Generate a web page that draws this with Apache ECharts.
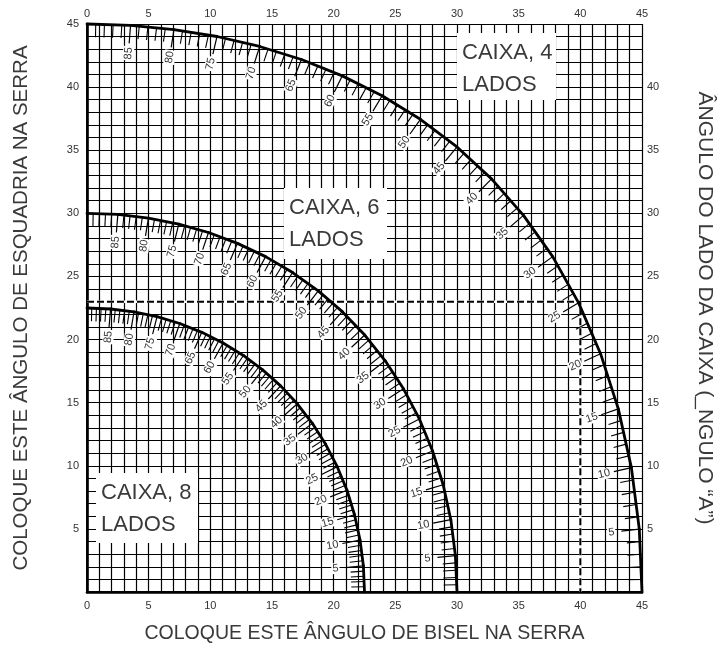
<!DOCTYPE html>
<html>
<head>
<meta charset="utf-8">
<script src="https://cdn.jsdelivr.net/npm/echarts@6/dist/echarts.min.js"></script>
<style>
html,body{margin:0;padding:0;background:#fff;}
#chart{width:723px;height:651px;}
</style>
</head>
<body>
<div id="chart"></div>
<script>
// Side angle "A" of the box (degrees), read at every 5° along the scales
const sideAngles = [0,5,10,15,20,25,30,35,40,45,50,55,60,65,70,75,80,85,90];
// 4-sided box: saw bevel (x) and saw miter (y)
const bevel4 = [45.00,44.78,44.14,43.08,41.64,39.86,37.76,35.39,32.80,30.00,27.03,23.93,20.70,17.39,14.00,10.54,7.05,3.53,0];
const miter4 = [0,4.98,9.85,14.51,18.88,22.91,26.57,29.84,32.73,35.26,37.45,39.32,40.89,42.19,43.22,44.01,44.56,44.89,45];
// 6-sided box
const bevel6 = [30.00,29.87,29.50,28.88,28.02,26.95,25.66,24.18,22.52,20.70,18.75,16.67,14.48,12.20,9.85,7.44,4.98,2.50,0];
const miter6 = [0,2.88,5.73,8.50,11.17,13.71,16.10,18.32,20.36,22.21,23.86,25.31,26.57,27.62,28.48,29.15,29.62,29.91,30];
// 8-sided box
const bevel8 = [22.50,22.41,22.14,21.69,21.08,20.29,19.35,18.27,17.05,15.70,14.24,12.68,11.03,9.31,7.52,5.68,3.81,1.91,0];
const miter8 = [0,2.07,4.11,6.12,8.06,9.93,11.70,13.36,14.91,16.33,17.60,18.74,19.73,20.57,21.27,21.81,22.19,22.42,22.5];
// Worked example (dashed guide)
const exampleBevel = [0, 40, 40];
const exampleMiter = [23, 23, 0];
// Tick labels
const bottomLabels = [0,5,10,15,20,25,30,35,40,45];
const topLabels = [0,5,10,15,20,25,30,35,40,45];
const leftLabels = [5,10,15,20,25,30,35,40,45];
const rightLabels = [5,10,15,20,25,30,35,40];
// Texts
const xTitle = 'COLOQUE ESTE ÂNGULO DE BISEL NA SERRA';
const yTitle = 'COLOQUE ESTE ÂNGULO DE ESQUADRIA NA SERRA';
const y2Title = 'ÂNGULO DO LADO DA CAIXA (_NGULO “A”)';
const boxNames = [['CAIXA, 4','LADOS'],['CAIXA, 6','LADOS'],['CAIXA, 8','LADOS']];

const FONT = '"Liberation Sans", Arial, Helvetica, sans-serif';
const chart = echarts.init(document.getElementById('chart'));

function curveSeries(bev, mit) {
  return {
    type: 'custom',
    coordinateSystem: 'cartesian2d',
    xAxisIndex: 0, yAxisIndex: 0,
    clip: false,
    z: 5,
    encode: {x: 0, y: 1},
    data: sideAngles.map((a, i) => [bev[i], mit[i], a]),
    renderItem: function (params, api) {
      const i = params.dataIndex;
      const p = api.coord([api.value(0), api.value(1)]);
      const o = api.coord([0, 0]);
      const a = api.value(2);
      const children = [];
      function tick(m, len, w) {
        const dx = o[0] - m[0], dy = o[1] - m[1];
        const d = Math.sqrt(dx*dx + dy*dy);
        children.push({type: 'line', shape: {x1: m[0], y1: m[1], x2: m[0] + dx/d*len, y2: m[1] + dy/d*len},
          style: {stroke: '#000', lineWidth: w}});
      }
      if (i < sideAngles.length - 1) {
        const q = api.coord([bev[i+1], mit[i+1]]);
        for (let k = 1; k < 5; k++) {
          const t = k / 5;
          tick([p[0] + (q[0]-p[0])*t, p[1] + (q[1]-p[1])*t], 13, 1.1);
        }
        children.push({type: 'line', shape: {x1: p[0], y1: p[1], x2: q[0], y2: q[1]},
          style: {stroke: '#000', lineWidth: 2.8, lineCap: 'round'}, z2: 10});
      }
      if (a % 5 === 0 && a > 0 && a < 90) {
        tick(p, 18, 1.2);
        const dx = p[0] - o[0], dy = p[1] - o[1];
        const d = Math.sqrt(dx*dx + dy*dy);
        const ux = dx/d, uy = dy/d;
        const rot = Math.atan2(-uy, ux);
        children.push({type: 'text', x: p[0] - ux*28, y: p[1] - uy*28, rotation: rot, z2: 12,
          style: {text: String(a), fontSize: 11, fontFamily: FONT, fill: '#333',
            align: 'center', verticalAlign: 'middle', backgroundColor: '#fff', padding: [0, 1]}});
      }
      return {type: 'group', children: children};
    }
  };
}

const baseAxis = {
  type: 'value', min: 0, max: 45, interval: 1,
  axisTick: {show: false},
  splitLine: {show: false},
};

function boxGraphic(x, y, w, h, lines) {
  return [
    {type: 'rect', shape: {x: x, y: y, width: w, height: h}, style: {fill: '#fff'}, z: 100},
    {type: 'text', x: x + 5, y: y + 20, z: 101, style: {text: lines[0], fontSize: 22, fontFamily: FONT, fill: '#3a3a3a', verticalAlign: 'middle'}},
    {type: 'text', x: x + 5, y: y + 52, z: 101, style: {text: lines[1], fontSize: 22, fontFamily: FONT, fill: '#3a3a3a', verticalAlign: 'middle'}}
  ];
}

const labelStyle = {fontSize: 11, fontFamily: FONT, color: '#333'};
const titleStyle = {fontSize: 20, fontFamily: FONT, color: '#3a3a3a'};
const exampleData = exampleBevel.map((b, i) => [b, exampleMiter[i]]);

chart.setOption({
  animation: false,
  backgroundColor: '#fff',
  grid: {left: 87, right: 80, top: 24, bottom: 59, containLabel: false},
  xAxis: [
    Object.assign({}, baseAxis, {
      position: 'bottom',
      axisLine: {lineStyle: {color: '#000', width: 2.6}},
      splitLine: {show: true, lineStyle: {color: '#000', width: 1.2}},
      axisLabel: Object.assign({margin: 8, formatter: v => bottomLabels.includes(v) ? String(v) : ''}, labelStyle),
      name: xTitle, nameLocation: 'middle', nameGap: 32,
      nameTextStyle: Object.assign({}, titleStyle, {fontSize: 19.5})
    }),
    Object.assign({}, baseAxis, {
      position: 'top',
      axisLine: {lineStyle: {color: '#000', width: 1.8}},
      axisLabel: Object.assign({margin: 5, formatter: v => topLabels.includes(v) ? String(v) : ''}, labelStyle)
    })
  ],
  yAxis: [
    Object.assign({}, baseAxis, {
      position: 'left',
      axisLine: {lineStyle: {color: '#000', width: 2.6}},
      splitLine: {show: true, lineStyle: {color: '#000', width: 1.2}},
      axisLabel: Object.assign({margin: 8, formatter: v => leftLabels.includes(v) ? String(v) : ''}, labelStyle),
      name: yTitle, nameLocation: 'middle', nameGap: 55,
      nameTextStyle: Object.assign({}, titleStyle, {fontSize: 20.5})
    }),
    Object.assign({}, baseAxis, {
      position: 'right',
      axisLine: {lineStyle: {color: '#000', width: 1.8}},
      axisLabel: Object.assign({margin: 5, formatter: v => rightLabels.includes(v) ? String(v) : ''}, labelStyle),
      name: y2Title, nameLocation: 'middle', nameGap: 52, nameRotate: -90,
      nameTextStyle: Object.assign({}, titleStyle, {fontSize: 21})
    })
  ],
  series: [
    {
      type: 'line', xAxisIndex: 0, yAxisIndex: 0, z: 3,
      data: exampleData, symbol: 'none', silent: true,
      lineStyle: {color: '#fff', width: 2.4}
    },
    {
      type: 'line', xAxisIndex: 0, yAxisIndex: 0, z: 4,
      data: exampleData, symbol: 'none', silent: true,
      lineStyle: {color: '#000', width: 2, type: [7, 3]}
    },
    curveSeries(bevel4, miter4),
    curveSeries(bevel6, miter6),
    curveSeries(bevel8, miter8)
  ],
  graphic: [].concat(
    boxGraphic(457, 33, 99, 67, boxNames[0]),
    boxGraphic(284, 188, 103, 71, boxNames[1]),
    boxGraphic(96, 473, 102, 70, boxNames[2])
  )
});
</script>
</body>
</html>
